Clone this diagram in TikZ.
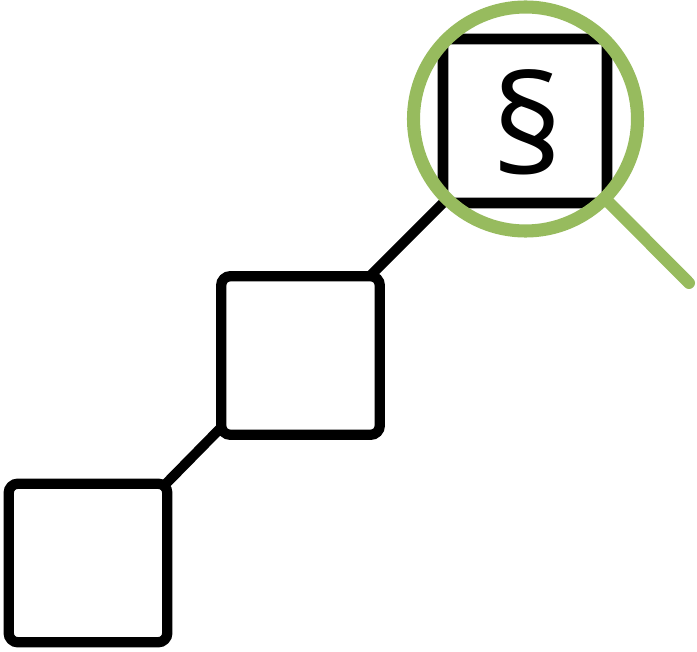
\documentclass[tikz,border=0pt]{standalone}
\usepackage{fontspec}
\setsansfont{Open Sans}
\definecolor{lensgreen}{HTML}{97BB5E}
\tikzset{
  docbox/.style={draw=black,line width=7.7pt,rounded corners=7pt,minimum size=119pt,inner sep=0pt,outer sep=0pt},
  link/.style={draw=black,line width=7.5pt},
  lens/.style={draw=lensgreen,circle,line width=9.8pt,minimum size=168pt,inner sep=0pt,outer sep=0pt}
}
\begin{document}
\begin{tikzpicture}[x=0.75pt,y=-0.75pt]
\useasboundingbox (0,0) rectangle (697,652);

% Kaesten
\node[docbox] (boxC) at (88,563) {};
\node[docbox] (boxB) at (300.5,355.5) {};
\begin{scope}
\clip (525.5,119) circle (113);
\node[docbox,line width=8.2pt,minimum size=123pt,rounded corners=3pt] (boxA) at (525,121) {};
\end{scope}
\node[font=\sffamily\fontsize{103pt}{103pt}\selectfont,inner sep=0pt] (para) at (528,122) {§};

% Verbindungen
\draw[link] ([xshift=-2pt,yshift=-1pt]boxC.north east) -- ([xshift=-1pt,yshift=4.5pt]boxB.south west);
\draw[link] ([xshift=-6.75pt,yshift=.75pt]boxB.north east) -- (boxA.south west);

% Lupe
\node[lens] (glass) at (525.5,119) {};
\coordinate (grip) at (689,283);
\draw[lensgreen,line width=9pt,line cap=round] (glass.south east) -- (grip);

\end{tikzpicture}
\end{document}
